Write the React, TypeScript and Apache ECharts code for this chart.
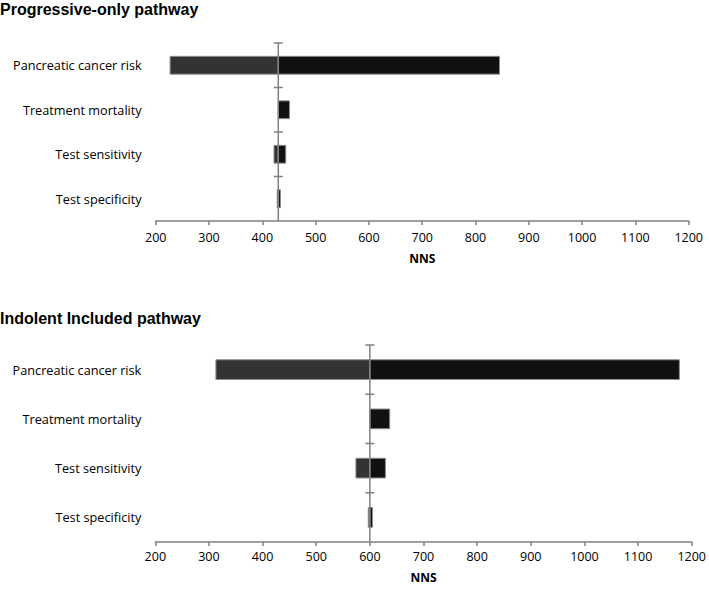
import React, { useEffect, useRef } from "react";
import * as echarts from "echarts";

const categories = [
  "Pancreatic cancer risk",
  "Treatment mortality",
  "Test sensitivity",
  "Test specificity",
];
const progressiveBase = 430;
const progressiveLow = [227, 430, 422, 428];
const progressiveHigh = [845, 451, 444, 434];
const indolentBase = 600;
const indolentLow = [313, 600, 574, 597];
const indolentHigh = [1177, 637, 629, 605];
const panelTitles = ["Progressive-only pathway", "Indolent Included pathway"];
const xName = "NNS";

const FONT = "Open Sans";
const AXIS_COLOR = "#808080";

function barRender(params: any, api: any) {
  const low = api.value(0);
  const high = api.value(1);
  const idx = api.value(2);
  const base = api.value(3);
  const h = api.size([0, 1])[1] * 0.4;
  const c = api.coord([base, idx]);
  const children: any[] = [];
  if (low < base) {
    const p = api.coord([low, idx]);
    children.push({
      type: "rect",
      shape: { x: p[0], y: c[1] - h / 2, width: c[0] - p[0], height: h },
      style: { fill: "#333333", stroke: "#8c8c8c", lineWidth: 1 },
    });
  }
  if (high > base) {
    const p = api.coord([high, idx]);
    children.push({
      type: "rect",
      shape: { x: c[0], y: c[1] - h / 2, width: p[0] - c[0], height: h },
      style: { fill: "#111111", stroke: "#8c8c8c", lineWidth: 1 },
    });
  }
  return { type: "group", children };
}

function baseRender(params: any, api: any) {
  const base = api.value(0);
  const idx = api.value(1);
  const c = api.coord([base, idx]);
  const bh = api.size([0, 1])[1];
  const top = c[1] - bh / 2;
  return {
    type: "group",
    children: [
      {
        type: "line",
        shape: { x1: c[0], y1: top, x2: c[0], y2: c[1] + bh / 2 },
        style: { stroke: AXIS_COLOR, lineWidth: 1.5 },
      },
      {
        type: "line",
        shape: { x1: c[0] - 4.5, y1: top, x2: c[0] + 4.5, y2: top },
        style: { stroke: AXIS_COLOR, lineWidth: 1.5 },
      },
    ],
  };
}

export default function App() {
  const ref = useRef<HTMLDivElement>(null);
  useEffect(() => {
    if (!ref.current) return;
    const chart = echarts.init(ref.current, undefined, { renderer: "svg" });
    const grids = [
      { left: 155.7, width: 533, top: 43, height: 178 },
      { left: 155.3, width: 539.6, top: 345, height: 197 },
    ];
    const xAxis = [0, 1].map((i) => ({
      type: "value",
      gridIndex: i,
      min: 200,
      max: 1200,
      interval: 100,
      splitLine: { show: false },
      axisLine: { show: true, lineStyle: { color: AXIS_COLOR, width: 1.5 } },
      axisTick: { show: true, length: 4, lineStyle: { color: AXIS_COLOR, width: 1.5 } },
      axisLabel: {
        color: "#000",
        fontSize: 12.5,
        fontFamily: FONT,
        margin: i === 0 ? 10 : 8,
        formatter: (v: number) => String(v),
      },
      name: xName,
      nameLocation: "middle",
      nameGap: i === 0 ? 31 : 29,
      nameTextStyle: { color: "#000", fontSize: 12, fontWeight: "bold", fontFamily: FONT },
    }));
    const yAxis = [0, 1].map((i) => ({
      type: "category",
      gridIndex: i,
      inverse: true,
      data: categories,
      axisLine: { show: false },
      axisTick: { show: false },
      splitLine: { show: false },
      axisLabel: { color: "#000", fontSize: 12.7, fontFamily: FONT, margin: 14 },
    }));
    const panels = [
      { base: progressiveBase, low: progressiveLow, high: progressiveHigh },
      { base: indolentBase, low: indolentLow, high: indolentHigh },
    ];
    const series: any[] = [];
    panels.forEach((p, i) => {
      series.push({
        type: "custom",
        xAxisIndex: i,
        yAxisIndex: i,
        renderItem: barRender,
        encode: { x: [0, 1], y: 2 },
        data: categories.map((_, k) => [p.low[k], p.high[k], k, p.base]),
        z: 2,
      });
      series.push({
        type: "custom",
        xAxisIndex: i,
        yAxisIndex: i,
        renderItem: baseRender,
        encode: { x: 0, y: 1 },
        data: categories.map((_, k) => [p.base, k]),
        z: 3,
      });
    });
    chart.setOption({
      animation: false,
      backgroundColor: "#fff",
      title: panelTitles.map((t, i) => ({
        text: t,
        left: 0,
        top: i === 0 ? 1 : 310,
        padding: 0,
        textStyle: {
          color: "#000",
          fontSize: 16,
          fontWeight: "bold",
          fontFamily: "Liberation Sans",
        },
      })),
      grid: grids,
      xAxis,
      yAxis,
      series,
    });
    return () => chart.dispose();
  }, []);
  return (
    <div
      ref={ref}
      style={{ position: "fixed", left: 0, top: 0, width: 709, height: 590 }}
    />
  );
}
